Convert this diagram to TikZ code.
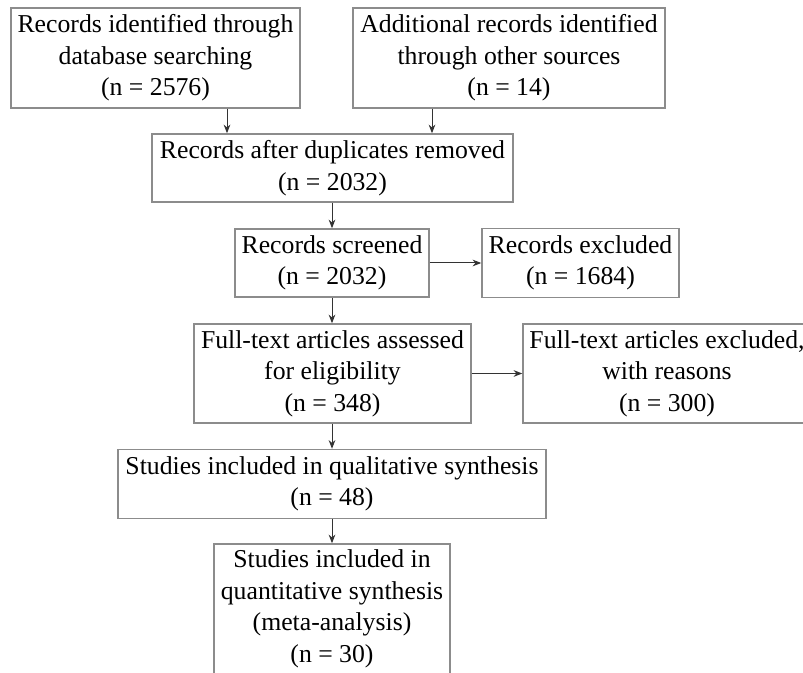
\documentclass[tikz,border=0pt]{standalone}
\usepackage{fontspec}
\setmainfont{Liberation Serif}
\usetikzlibrary{arrows.meta}

\tikzset{
  box/.style={draw=black!45, line width=1.1pt, fill=white, align=center, inner sep=0pt,
    font=\fontsize{19.3}{23.6}\selectfont, execute at begin node={\rule{0pt}{24pt}}},
  arr/.style={draw=black!80, line width=0.75pt, -{Stealth[length=6.5pt,width=5pt]}}
}

\begin{document}
\begin{tikzpicture}[x=0.75pt,y=-0.75pt]
\useasboundingbox (0,0) rectangle (803,673);
\clip (0,0) rectangle (803,673);
\fill[white] (0,0) rectangle (803,673);
% boxes
\node[box, minimum width=289*0.75pt, minimum height=100*0.75pt] (db) at (155.5,58) {Records identified through\\database searching\\(n = 2576)};
\node[box, minimum width=312*0.75pt, minimum height=100*0.75pt] (other) at (509,58) {Additional records identified\\through other sources\\(n = 14)};
\node[box, minimum width=361*0.75pt, minimum height=68*0.75pt] (dup) at (332.5,168) {Records after duplicates removed\\(n = 2032)};
\node[box, minimum width=194*0.75pt, minimum height=68*0.75pt] (scr) at (332,263) {Records screened\\(n = 2032)};
\node[box, minimum width=197*0.75pt, minimum height=69*0.75pt] (exc) at (580.5,263) {Records excluded\\(n = 1684)};
\node[box, minimum width=277*0.75pt, minimum height=99*0.75pt] (full) at (332.5,373.5) {Full-text articles assessed\\for eligibility\\(n = 348)};
\node[box, minimum width=288*0.75pt, minimum height=99*0.75pt] (fexc) at (667,373.5) {Full-text articles excluded,\\with reasons\\(n = 300)};
\node[box, minimum width=428*0.75pt, minimum height=69*0.75pt] (qual) at (332,484) {Studies included in qualitative synthesis\\(n = 48)};
\node[box, minimum width=236*0.75pt, minimum height=130*0.75pt] (quant) at (332,609) {Studies included in\\quantitative synthesis\\(meta-analysis)\\(n = 30)};
% arrows
\coordinate (a1) at (227,0);
\coordinate (a2) at (432,0);
\draw[arr] (db.south -| a1) -- (dup.north -| a1);
\draw[arr] (other.south -| a2) -- (dup.north -| a2);
\draw[arr] (scr.north |- dup.south) -- (scr.north);
\draw[arr] (scr.east) -- (exc.west);
\draw[arr] (scr.south) -- (scr.south |- full.north);
\draw[arr] (full.east) -- (fexc.west);
\draw[arr] (qual.north |- full.south) -- (qual.north);
\draw[arr] (qual.south) -- (quant.north);
\end{tikzpicture}
\end{document}
